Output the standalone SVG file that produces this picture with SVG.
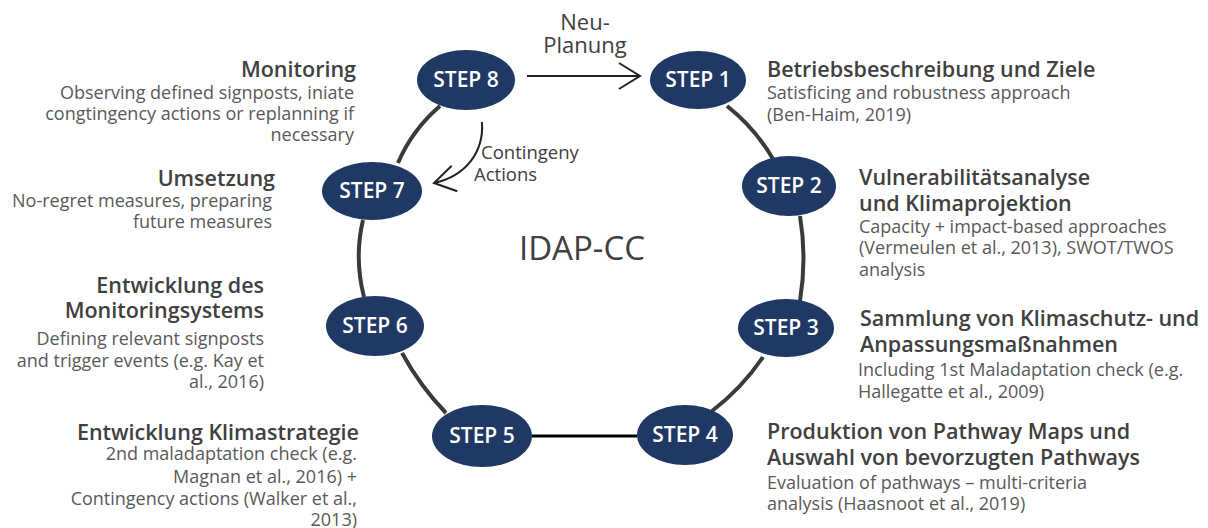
<svg xmlns="http://www.w3.org/2000/svg" width="1208" height="528" viewBox="0 0 1208 528">
<style>
.node ellipse{fill:#1f3864;}
.node text{font-family:"Open Sans","Liberation Sans",sans-serif;font-size:21px;font-weight:600;fill:#ffffff;text-anchor:middle;}
.title{font-family:"Open Sans","Liberation Sans",sans-serif;font-size:21.5px;font-weight:600;fill:#404040;}
.body{font-family:"Open Sans","Liberation Sans",sans-serif;font-size:18px;fill:#595959;}
.r{text-anchor:end;}
.lbl{font-family:"Open Sans","Liberation Sans",sans-serif;font-size:18.5px;fill:#404040;}
.ring{fill:none;stroke:#3a3a3a;stroke-width:4;}
.arr{fill:none;stroke:#222;stroke-width:2;}
</style>
<defs>
<marker id="chev" viewBox="0 0 24 28" refX="22" refY="14" markerWidth="24" markerHeight="28" markerUnits="userSpaceOnUse" orient="auto">
<path d="M1,1 L22,14 L1,27" fill="none" stroke="#222" stroke-width="2"/>
</marker>
</defs>
<rect width="1208" height="528" fill="#ffffff"/>
<g id="connectors">
<path class="ring" d="M440 106 Q412 130 398 163"/>
<path class="ring" d="M727 106 Q755 128 773 159"/>
<path class="ring" d="M800 216 Q807 258 800 301"/>
<path class="ring" d="M763 357 Q742 388 712 411"/>
<path class="ring" d="M446 413 Q420 386 402 353"/>
<path class="ring" d="M364 297 Q354 258 363 220"/>
<path d="M532 436 L637 436" fill="none" stroke="#000" stroke-width="3"/>
<path class="arr" d="M527 76 L640 76" marker-end="url(#chev)"/>
<path class="arr" d="M482 122 C484 152 466 176 434 183" marker-end="url(#chev)"/>
</g>
<g id="labels">
<text class="lbl" x="585" y="30" text-anchor="middle" style="font-size:22px">Neu-</text>
<text class="lbl" x="585" y="53" text-anchor="middle" style="font-size:22px">Planung</text>
<text class="lbl" x="481" y="159">Contingeny</text>
<text class="lbl" x="474" y="181">Actions</text>
<text x="582" y="260" text-anchor="middle" style="font-family:'Open Sans','Liberation Sans',sans-serif;font-size:33px;fill:#404040;">IDAP-CC</text>
</g>
<g id="step8" class="node"><ellipse cx="466" cy="80" rx="49" ry="30"/><text x="466" y="87">STEP 8</text></g>
<g id="step1" class="node"><ellipse cx="698" cy="80" rx="48" ry="29"/><text x="698" y="87">STEP 1</text></g>
<g id="step7" class="node"><ellipse cx="372" cy="191" rx="50" ry="29"/><text x="372" y="198">STEP 7</text></g>
<g id="step2" class="node"><ellipse cx="789" cy="186" rx="47" ry="30"/><text x="789" y="193">STEP 2</text></g>
<g id="step6" class="node"><ellipse cx="375" cy="326" rx="49" ry="30"/><text x="375" y="333">STEP 6</text></g>
<g id="step3" class="node"><ellipse cx="786" cy="328" rx="48" ry="29"/><text x="786" y="335">STEP 3</text></g>
<g id="step5" class="node"><ellipse cx="482" cy="436" rx="50" ry="31"/><text x="482" y="443">STEP 5</text></g>
<g id="step4" class="node"><ellipse cx="685" cy="435" rx="48" ry="30"/><text x="685" y="442">STEP 4</text></g>
<g id="desc8">
<text class="title r" x="356" y="77">Monitoring</text>
<text class="body r" x="354" y="99">Observing defined signposts, iniate</text>
<text class="body r" x="354" y="120">congtingency actions or replanning if</text>
<text class="body r" x="354" y="141">necessary</text>
</g>
<g id="desc7">
<text class="title r" x="275" y="186">Umsetzung</text>
<text class="body r" x="272" y="207">No-regret measures, preparing</text>
<text class="body r" x="272" y="228">future measures</text>
</g>
<g id="desc6">
<text class="title r" x="264" y="293">Entwicklung des</text>
<text class="title r" x="264" y="318">Monitoringsystems</text>
<text class="body r" x="264" y="345">Defining relevant signposts</text>
<text class="body r" x="264" y="367">and trigger events (e.g. Kay et</text>
<text class="body r" x="264" y="388">al., 2016)</text>
</g>
<g id="desc5">
<text class="title r" x="359" y="440">Entwicklung Klimastrategie</text>
<text class="body r" x="357" y="460">2nd maladaptation check (e.g.</text>
<text class="body r" x="357" y="483">Magnan et al., 2016) +</text>
<text class="body r" x="357" y="505">Contingency actions (Walker et al.,</text>
<text class="body r" x="357" y="526">2013)</text>
</g>
<g id="desc1">
<text class="title" x="767" y="77">Betriebsbeschreibung und Ziele</text>
<text class="body" x="767" y="99">Satisficing and robustness approach</text>
<text class="body" x="767" y="121">(Ben-Haim, 2019)</text>
</g>
<g id="desc2">
<text class="title" x="859" y="185">Vulnerabilitätsanalyse</text>
<text class="title" x="859" y="211">und Klimaprojektion</text>
<text class="body" x="859" y="233">Capacity + impact-based approaches</text>
<text class="body" x="859" y="254">(Vermeulen et al., 2013), SWOT/TWOS</text>
<text class="body" x="859" y="276">analysis</text>
</g>
<g id="desc3">
<text class="title" x="860" y="326">Sammlung von Klimaschutz- und</text>
<text class="title" x="860" y="352">Anpassungsmaßnahmen</text>
<text class="body" x="858" y="376">Including 1st Maladaptation check (e.g.</text>
<text class="body" x="858" y="398">Hallegatte et al., 2009)</text>
</g>
<g id="desc4">
<text class="title" x="767" y="439">Produktion von Pathway Maps und</text>
<text class="title" x="767" y="465">Auswahl von bevorzugten Pathways</text>
<text class="body" x="767" y="489">Evaluation of pathways – multi-criteria</text>
<text class="body" x="767" y="510">analysis (Haasnoot et al., 2019)</text>
</g>
</svg>
